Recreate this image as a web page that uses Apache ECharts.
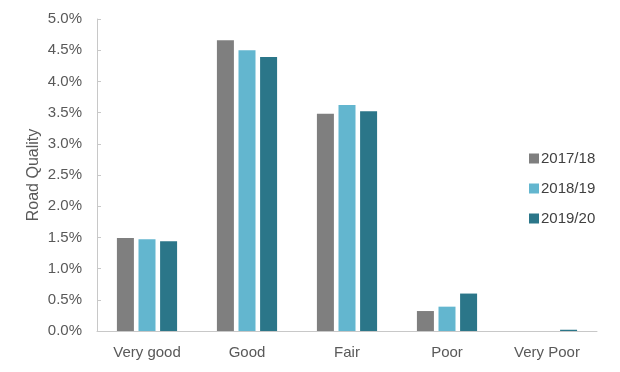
<!DOCTYPE html>
<html><head><meta charset="utf-8">
<script src="https://cdn.jsdelivr.net/npm/echarts@6/dist/echarts.min.js"></script>
<style>html,body{margin:0;padding:0;background:#fff}#c{width:620px;height:372px}</style>
</head><body><div id="c"></div>
<script>
const categories = ["Very good", "Good", "Fair", "Poor", "Very Poor"];
const seriesNames = ["2017/18", "2018/19", "2019/20"];
const values2017 = [1.49, 4.66, 3.48, 0.32, 0.0];
const values2018 = [1.47, 4.50, 3.62, 0.39, 0.0];
const values2019 = [1.44, 4.39, 3.52, 0.60, 0.02];
const colors = ["#7f7f7f", "#63b6cf", "#2b7689"];
const yTicks = [0, 0.5, 1, 1.5, 2, 2.5, 3, 3.5, 4, 4.5, 5];

const font = "Liberation Sans, Arial, sans-serif";
const chart = echarts.init(document.getElementById('c'), null, {renderer: 'canvas'});
const allValues = [values2017, values2018, values2019];
chart.setOption({
  animation: false,
  color: colors,
  grid: {left: 97, right: 23, top: 19, bottom: 41},
  legend: {
    orient: 'vertical', left: 524, top: 146,
    itemWidth: 10, itemHeight: 10, itemGap: 15,
    icon: 'rect',
    textStyle: {fontFamily: font, fontSize: 15, color: '#404040', padding: [0,0,0,-3]},
    data: seriesNames
  },
  xAxis: {
    type: 'category', data: categories,
    axisLine: {lineStyle: {color: '#c8c8c8', width: 1}},
    axisTick: {show: false},
    axisLabel: {fontFamily: font, fontSize: 15, color: '#595959', margin: 14}
  },
  yAxis: {
    type: 'value', min: 0, max: 5, interval: 0.5,
    name: 'Road Quality', nameLocation: 'middle', nameGap: 55, nameRotate: 90,
    nameMoveOverlap: false,
    nameTextStyle: {fontFamily: font, fontSize: 16, color: '#595959'},
    axisLine: {show: true, lineStyle: {color: '#c8c8c8'}},
    axisTick: {show: true, inside: true, length: 4, lineStyle: {color: '#c8c8c8'}},
    splitLine: {show: false},
    axisLabel: {fontFamily: font, fontSize: 15, color: '#595959', margin: 15,
      formatter: v => v.toFixed(1) + '%'}
  },
  series: seriesNames.map((n, i) => ({
    name: n, type: 'bar', data: allValues[i],
    barWidth: 17, barGap: '27%',
    itemStyle: {color: colors[i]}
  }))
});
</script></body></html>
